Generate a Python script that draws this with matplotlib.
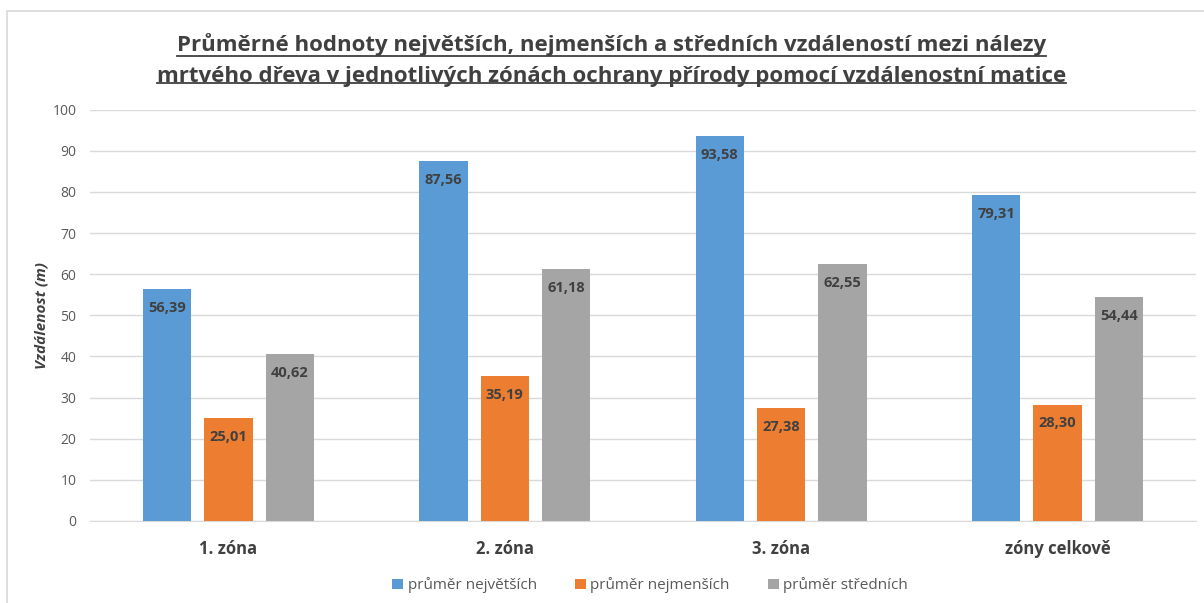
import matplotlib.pyplot as plt
import numpy as np
from matplotlib.patches import Rectangle
from matplotlib.lines import Line2D

plt.rcParams['font.family'] = ['Open Sans', 'DejaVu Sans']

zones = ['1. zóna', '2. zóna', '3. zóna', 'zóny celkově']
series = ['průměr největších', 'průměr nejmenších', 'průměr středních']
largest = [56.39, 87.56, 93.58, 79.31]
smallest = [25.01, 35.19, 27.38, 28.30]
middle = [40.62, 61.18, 62.55, 54.44]
colors = ['#5B9BD5', '#ED7D31', '#A5A5A5']

title = ('Průměrné hodnoty největších, nejmenších a středních vzdáleností mezi nálezy\n'
         'mrtvého dřeva v jednotlivých zónách ochrany přírody pomocí vzdálenostní matice')

fig = plt.figure(figsize=(12.04, 6.03), dpi=100)
ax = fig.add_axes([0.075, 0.136, 0.918, 0.682])

# chart area border (top and left visible)
fig.add_artist(Rectangle((7 / 1204, -0.1), 1.2, 1 - 11 / 603 + 0.1,
                         transform=fig.transFigure, fill=False,
                         edgecolor='#d9d9d9', lw=1.2))

x = np.arange(len(zones))
w = 0.175
step = 0.222
for i, (vals, col) in enumerate(zip([largest, smallest, middle], colors)):
    pos = x + (i - 1) * step
    bars = ax.bar(pos, vals, width=w, color=col, label=series[i], zorder=3)
    for b, v in zip(bars, vals):
        ax.annotate(f'{v:.2f}'.replace('.', ','), (b.get_x() + b.get_width() / 2, v),
                    xytext=(0, -8.5), textcoords='offset points', ha='center', va='top',
                    fontsize=10.5, fontweight='bold', color='#404040', zorder=4)

ax.set_xlim(-0.5, 3.5)
ax.set_ylim(0, 100)
ax.set_yticks(range(0, 101, 10))
ax.yaxis.grid(True, color='#d9d9d9', lw=1)
ax.set_axisbelow(True)
for s in ['top', 'right', 'left']:
    ax.spines[s].set_visible(False)
ax.spines['bottom'].set_color('#d9d9d9')
ax.tick_params(axis='both', length=0)
ax.tick_params(axis='y', labelsize=10, labelcolor='#595959', pad=10)
ax.set_xticks(x)
ax.set_xticklabels(zones, fontsize=12, fontweight='bold', color='#404040')
ax.tick_params(axis='x', pad=14)
ax.set_ylabel('Vzdálenost (m)', fontsize=11, fontweight='bold', fontstyle='italic',
              color='#404040', labelpad=3)

leg = fig.legend(loc='lower center', bbox_to_anchor=(0.54, -0.007), ncol=3, frameon=False,
                 fontsize=11, handlelength=0.7, handleheight=0.7, handletextpad=0.3,
                 columnspacing=2.5, labelcolor='#595959')

t = fig.text(0.508, 0.9, title, ha='center', va='center', fontsize=16,
             fontweight='bold', color='#404040', linespacing=1.62)

# underline each title line
fig.canvas.draw()
r = fig.canvas.get_renderer()
lines = title.split('\n')
bb = t.get_window_extent(r)
lh = bb.height / 2
for k, line in enumerate(lines):
    tmp = fig.text(0, 0, line, fontsize=16, fontweight='bold')
    lw_px = tmp.get_window_extent(r).width
    tmp.remove()
    cx = (bb.x0 + bb.x1) / 2
    ybase = bb.y1 - (k + 1) * lh + 4
    fig.add_artist(Line2D([(cx - lw_px / 2) / 1204, (cx + lw_px / 2) / 1204],
                          [ybase / 603, ybase / 603], transform=fig.transFigure,
                          color='#404040', lw=1.3))

fig.savefig('out.png', dpi=100)
